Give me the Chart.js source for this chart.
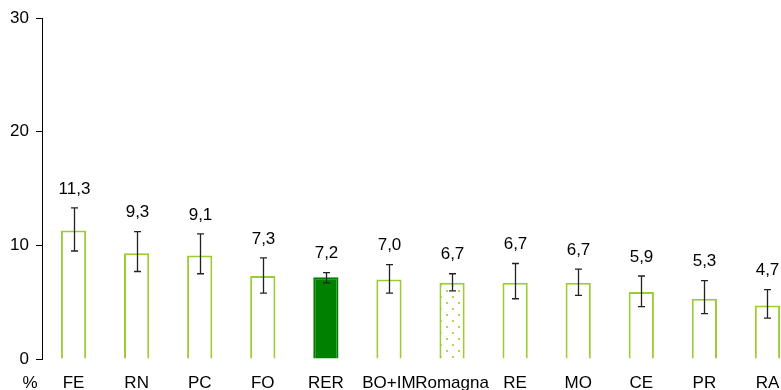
<!DOCTYPE html>
<html>
<head>
<meta charset="utf-8">
<script src="https://cdn.jsdelivr.net/npm/chart.js@4/dist/chart.umd.min.js"></script>
<style>
    body { margin: 0; background: #fff; overflow: hidden; }
    .chart-container { width: 781px; height: 390px; overflow: hidden; }
</style>
</head>
<body>
    <div class="chart-container">
        <canvas id="barChart" width="800" height="390"></canvas>
    </div>

    <script>
        // data
        var areas = ['FE', 'RN', 'PC', 'FO', 'RER', 'BO+IM', 'Romagna', 'RE', 'MO', 'CE', 'PR', 'RA'];
        var values = [11.3, 9.3, 9.1, 7.3, 7.2, 7.0, 6.7, 6.7, 6.7, 5.9, 5.3, 4.7];
        var ciLow = [9.5, 7.7, 7.5, 5.8, 6.7, 5.8, 6.0, 5.3, 5.6, 4.6, 4.0, 3.6];
        var ciHigh = [13.3, 11.2, 11.0, 8.9, 7.6, 8.3, 7.5, 8.4, 7.9, 7.3, 6.9, 6.1];
        var yTicks = [0, 10, 20, 30];

        var lineGreen = '#9acd32';
        var darkGreen = '#008000';
        var font = '"Liberation Sans", Arial, sans-serif';

        // dotted fill for the Romagna bar
        function makeDots() {
            var c = document.createElement('canvas');
            c.width = 12;
            c.height = 12;
            var g = c.getContext('2d');
            g.fillStyle = '#fff';
            g.fillRect(0, 0, 12, 12);
            g.fillStyle = '#b0d858';
            g.fillRect(2, 2, 2, 2);
            g.fillRect(8, 8, 2, 2);
            return g.createPattern(c, 'repeat');
        }
        var dots = makeDots();

        var errorBars = {
            id: 'errorBars',
            afterDatasetsDraw: function (chart) {
                var ctx = chart.ctx;
                var y = chart.scales.y;
                var meta = chart.getDatasetMeta(0);
                ctx.save();
                ctx.strokeStyle = '#222';
                ctx.lineWidth = 1.3;
                ctx.fillStyle = '#000';
                ctx.font = '17px ' + font;
                ctx.textAlign = 'center';
                ctx.textBaseline = 'middle';
                for (var i = 0; i < values.length; i++) {
                    var x = Math.round(meta.data[i].x) + 0.5;
                    var top = y.getPixelForValue(ciHigh[i]);
                    var bottom = y.getPixelForValue(ciLow[i]);
                    ctx.beginPath();
                    ctx.moveTo(x, top);
                    ctx.lineTo(x, bottom);
                    ctx.moveTo(x - 3.5, top);
                    ctx.lineTo(x + 3.5, top);
                    ctx.moveTo(x - 3.5, bottom);
                    ctx.lineTo(x + 3.5, bottom);
                    ctx.stroke();
                    ctx.fillText(values[i].toFixed(1).replace('.', ','), x, top - 19);
                }
                ctx.fillText('%', 30, 383);
                ctx.restore();
            }
        };

        var ctx = document.getElementById('barChart').getContext('2d');
        var chart = new Chart(ctx, {
            type: 'bar',
            data: {
                labels: areas,
                datasets: [{
                    data: values,
                    backgroundColor: function (c) {
                        var name = areas[c.dataIndex];
                        if (name === 'RER') return darkGreen;
                        if (name === 'Romagna') return dots;
                        return '#fff';
                    },
                    borderColor: function (c) {
                        return areas[c.dataIndex] === 'RER' ? darkGreen : lineGreen;
                    },
                    borderWidth: 2,
                    categoryPercentage: 1,
                    barPercentage: 0.4
                }]
            },
            options: {
                responsive: false,
                animation: false,
                layout: { padding: { top: 18, right: 1, left: 0, bottom: 0 } },
                plugins: {
                    legend: { display: false },
                    tooltip: { enabled: false }
                },
                scales: {
                    x: {
                        grid: { display: false },
                        border: { display: false },
                        ticks: {
                            color: '#000',
                            font: { size: 17, family: font },
                            padding: 6,
                            autoSkip: false,
                            maxRotation: 0
                        },
                        afterFit: function (s) { s.height = 31; }
                    },
                    y: {
                        min: 0,
                        max: 30,
                        afterBuildTicks: function (s) {
                            s.ticks = yTicks.map(function (v) { return { value: v }; });
                        },
                        grid: { drawOnChartArea: false, tickLength: 6, color: '#000' },
                        border: { color: '#000', width: 1 },
                        ticks: {
                            color: '#000',
                            font: { size: 17, family: font },
                            padding: 7
                        },
                        afterFit: function (s) { s.width = 42; }
                    }
                }
            },
            plugins: [errorBars]
        });
    </script>
</body>
</html>
